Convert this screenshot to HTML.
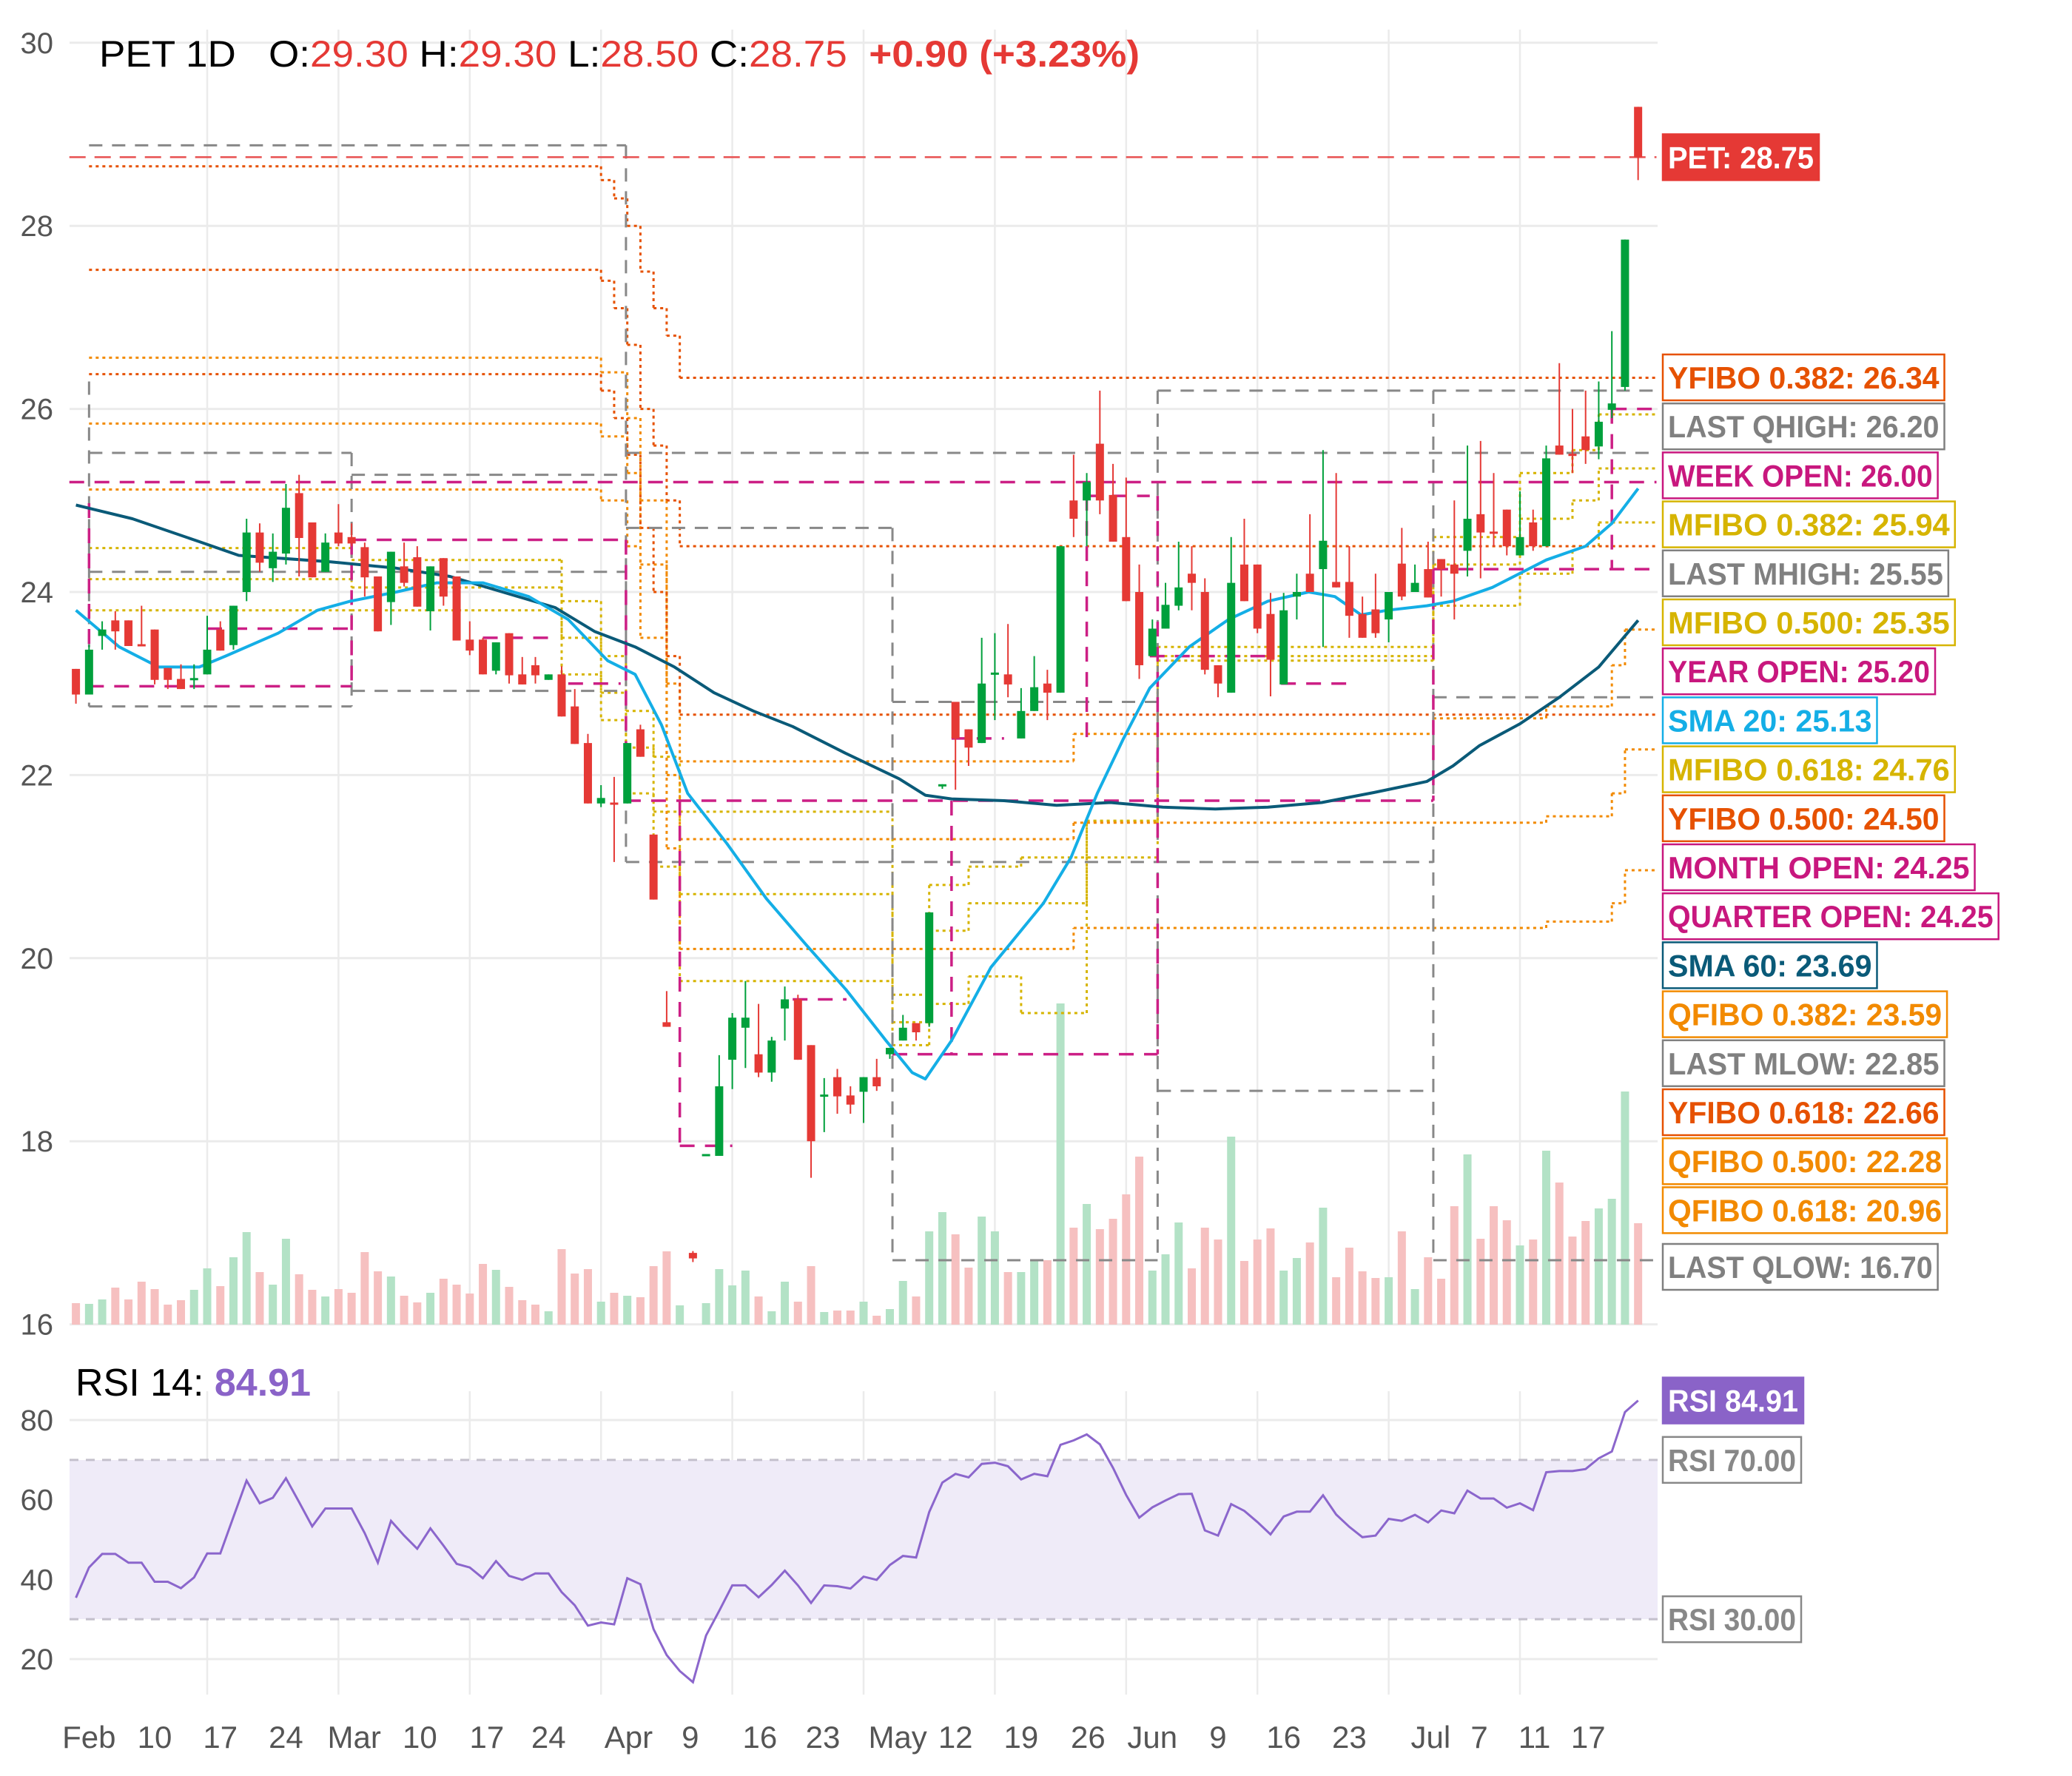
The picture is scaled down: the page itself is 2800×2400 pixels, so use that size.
<!DOCTYPE html>
<html><head><meta charset="utf-8"><title>PET 1D</title>
<style>
html,body{margin:0;padding:0;background:#fff;}
svg{display:block;font-family:"Liberation Sans",sans-serif;}
</style></head>
<body>
<svg id="chart" xmlns="http://www.w3.org/2000/svg" width="2800" height="2400" viewBox="0 0 2800 2400">
<rect x="0" y="0" width="2800" height="2400" fill="#ffffff"/>
<g id="grid"></g>
<rect x="94" y="1973" width="2146" height="215" fill="#efebf8"/>
<g id="volume"></g>
<g id="levels"></g>
<g id="smas"></g>
<g id="candles"></g>
<g id="rsi"></g>
<g id="axes"></g>
<g id="labels"></g>
<text x="134" y="90" font-size="50" textLength="1406" lengthAdjust="spacingAndGlyphs"><tspan fill="#000">PET 1D&#160;&#160;&#160;O:</tspan><tspan fill="#e53935">29.30</tspan><tspan fill="#000"> H:</tspan><tspan fill="#e53935">29.30</tspan><tspan fill="#000"> L:</tspan><tspan fill="#e53935">28.50</tspan><tspan fill="#000"> C:</tspan><tspan fill="#e53935">28.75</tspan><tspan fill="#e53935" font-weight="bold">&#160;&#160;+0.90 (+3.23%)</tspan></text>
<text x="102" y="1886" font-size="52"><tspan fill="#000">RSI 14: </tspan><tspan fill="#8a63c8" font-weight="bold">84.91</tspan></text>
</svg>
<script>
const opens=[23.16,22.88,23.52,23.69,23.69,23.43,23.59,23.17,23.05,23.04,23.10,23.59,23.42,24.00,24.65,24.26,24.42,25.08,24.76,24.22,24.65,24.60,24.49,24.17,23.89,24.28,24.38,23.79,24.37,24.17,23.48,23.48,23.14,23.55,23.10,23.20,23.04,23.10,22.75,22.35,21.69,21.70,21.69,22.50,21.35,19.30,null,16.78,17.84,17.84,18.89,19.24,18.95,18.75,19.45,19.55,19.05,18.49,18.70,18.50,18.54,18.70,18.95,19.10,19.29,19.29,21.88,22.80,22.50,22.35,23.10,23.10,22.40,22.70,23.00,22.90,25.00,25.00,25.62,25.06,24.60,24.00,23.30,23.60,23.85,24.20,24.00,23.20,22.90,24.30,24.30,23.76,22.99,23.95,24.20,24.25,24.11,24.11,23.76,23.81,23.70,24.31,24.00,24.25,24.36,24.30,24.45,24.85,24.66,24.90,24.40,24.76,24.50,25.60,25.51,25.70,25.59,25.99,26.24,29.30];
const highs=[23.16,23.42,23.68,23.79,23.69,23.85,23.59,23.17,23.21,23.21,23.74,23.68,23.85,24.80,24.75,24.64,25.18,25.28,24.76,24.64,24.96,24.75,24.54,24.17,24.44,24.54,24.50,24.28,24.37,24.17,23.68,23.50,23.45,23.55,23.29,23.29,23.10,23.19,22.94,22.45,21.89,21.98,22.35,22.55,21.35,19.64,null,16.80,17.86,18.94,19.40,19.75,19.50,19.14,19.69,19.60,19.05,18.69,18.79,18.60,18.70,18.90,19.02,19.38,19.29,20.50,21.90,22.80,22.50,23.50,23.55,23.65,22.95,23.30,23.15,24.50,25.50,25.30,26.20,25.40,25.25,24.30,23.70,24.10,24.55,24.50,24.15,23.20,24.60,24.80,24.30,23.99,23.99,24.20,24.85,25.55,25.30,24.50,23.95,24.20,24.00,24.70,24.30,24.55,24.36,25.00,25.60,25.65,25.30,24.90,25.10,24.90,25.60,26.50,26.00,26.20,26.30,26.85,27.85,29.30];
const lows=[22.78,22.88,23.37,23.37,23.41,23.42,22.99,22.94,22.94,22.94,23.10,23.36,23.37,23.90,24.22,24.11,24.30,24.17,24.16,24.22,24.50,24.50,23.95,23.57,23.64,24.06,23.84,23.58,23.85,23.47,23.31,23.10,23.10,23.00,22.99,23.00,23.04,22.64,22.34,21.69,21.65,21.05,21.69,22.20,20.64,19.25,null,16.68,17.84,17.84,18.57,18.80,18.70,18.65,19.10,18.89,17.60,18.10,18.30,18.30,18.20,18.55,18.90,19.10,19.10,19.25,21.85,21.84,22.10,22.35,22.60,22.85,22.40,22.70,22.60,22.90,24.60,24.50,24.85,24.55,23.90,23.05,23.30,23.60,23.80,23.80,23.10,22.85,22.90,23.90,23.55,22.86,22.99,23.70,24.00,23.40,24.05,23.50,23.50,23.50,23.45,23.91,24.00,23.94,23.95,23.70,24.17,24.15,24.50,24.40,24.40,24.45,24.50,25.50,25.30,25.40,25.45,25.90,26.20,28.50];
const closes=[22.88,23.37,23.59,23.57,23.41,23.42,23.04,23.04,22.94,23.06,23.37,23.36,23.85,24.65,24.32,24.44,24.92,24.59,24.16,24.54,24.53,24.53,24.16,23.57,24.44,24.10,23.84,24.28,23.95,23.47,23.36,23.10,23.45,23.09,22.99,23.09,23.10,22.64,22.34,21.69,21.75,21.69,22.35,22.20,20.64,19.25,null,16.72,17.86,18.60,19.35,19.35,18.75,19.10,19.55,18.89,18.00,18.51,18.49,18.40,18.70,18.60,19.02,19.24,19.19,20.50,21.90,22.40,22.30,23.00,23.12,22.99,22.70,22.96,22.90,24.50,24.80,25.20,25.00,24.55,23.90,23.20,23.60,23.86,24.05,24.10,23.15,23.00,24.10,23.90,23.60,23.26,23.80,24.00,24.00,24.56,24.05,23.74,23.50,23.55,24.00,23.95,24.10,23.94,24.25,24.20,24.80,24.65,24.64,24.50,24.60,24.50,25.46,25.50,25.49,25.55,25.86,26.06,27.85,28.75];
const volumes=[29,28,34,50,34,58,48,27,33,47,76,52,91,125,71,54,116,68,47,38,48,43,98,72,65,39,30,43,62,54,42,82,74,51,33,27,18,102,69,75,31,43,39,37,79,99,26,0,29,75,53,73,38,18,58,31,79,17,19,19,31,12,21,59,38,126,152,122,77,146,126,71,71,87,87,434,131,163,129,143,176,227,73,95,138,76,131,115,254,86,115,130,73,90,111,158,64,104,72,63,64,126,48,91,62,160,230,116,160,141,107,115,235,192,119,140,157,170,315,137];
const rsiValues=[35.4,43.0,46.4,46.4,44.2,44.2,39.4,39.4,37.8,40.5,46.5,46.5,55.7,64.8,59.1,60.5,65.4,59.4,53.3,57.8,57.8,57.8,51.6,44.2,54.7,51.0,47.7,52.8,48.5,43.9,43.0,40.3,44.6,40.9,39.9,41.5,41.5,36.8,33.5,28.4,29.2,28.7,40.3,38.8,27.5,21.0,17.0,14.2,25.9,32.1,38.5,38.5,35.5,38.6,42.2,38.5,34.1,38.5,38.3,37.7,40.7,39.9,43.6,45.9,45.5,56.9,64.3,66.5,65.6,69.0,69.3,68.4,65.1,66.5,65.9,73.8,74.9,76.4,73.9,68.0,61.2,55.5,58.1,59.8,61.4,61.5,52.3,51.0,58.9,57.2,54.4,51.3,55.8,57.0,57.0,61.1,56.3,53.2,50.6,51.0,55.2,54.7,56.2,54.3,57.3,56.6,62.3,60.3,60.3,58.0,59.1,57.4,66.9,67.2,67.2,67.7,70.4,72.1,82.0,84.91];
const sma20Idx=[0,3.3,6.3,9.4,11.4,15.4,18.4,20.9,24.4,27.5,31,34.5,37.5,40.5,42.6,44.6,46.6,49.6,52.6,55.6,58.7,61.7,63.7,64.7,66.7,69.7,73.7,75.8,77.8,79.8,81.8,84.8,87.8,90.8,93.9,95.9,97.9,99.9,102.9,104.9,107.9,112,115,117,119];
const sma20Val=[23.8,23.4,23.18,23.18,23.3,23.55,23.8,23.9,24.0,24.1,24.1,23.95,23.7,23.25,23.1,22.55,21.8,21.25,20.65,20.15,19.65,19.1,18.75,18.68,19.1,19.9,20.6,21.1,21.8,22.4,22.95,23.4,23.7,23.9,24.0,23.95,23.75,23.8,23.85,23.9,24.05,24.35,24.5,24.75,25.13];
const sma60Idx=[0,4.3,9.4,12.4,15.4,19.4,24.4,28.5,32.5,36.5,39.5,42.6,45.6,48.6,51.6,54.6,58.6,62.7,64.7,66.7,70.7,74.7,78.8,82.8,86.8,90.8,94.9,98.9,102.9,104.9,106.9,110,113,116,119];
const sma60Val=[24.95,24.8,24.55,24.4,24.37,24.33,24.26,24.17,24.0,23.83,23.57,23.4,23.18,22.9,22.7,22.53,22.24,21.96,21.78,21.74,21.72,21.67,21.7,21.65,21.63,21.65,21.7,21.81,21.93,22.1,22.32,22.56,22.85,23.18,23.69];
const grayLevels=[[1,41.9,28.88],[1,21,25.52],[1,41.9,24.22],[1,21,22.75],[21,41.9,22.92],[21,41.9,25.28],[41.9,62.2,24.7],[41.9,103.4,21.05],[41.9,120.4,25.52],[62.2,82.4,22.8],[62.2,82.4,16.7],[82.4,103.4,18.55],[82.4,120.4,26.2],[103.4,120.4,22.85],[103.4,120.4,16.7]];
const grayVerticals=[[1,26.3,22.75],[21,25.52,22.75],[41.9,28.88,21.05],[62.2,24.7,16.7],[82.4,26.2,16.7],[103.4,26.2,16.7]];
const magentaLevels=[[-0.5,120.4,25.2],[1,21,22.97],[21,41.9,24.57],[41.9,103.4,21.72],[62.2,82.4,18.95],[10,21,23.6],[31,36,23.5],[37.5,41.5,23.0],[46,50,17.95],[54.6,58.7,19.55],[66.7,70.7,22.4],[77,81.8,25.05],[81.8,90.6,23.3],[91.8,96.8,23.0],[103.4,120.4,24.25],[117,120.4,26.0]];
const magentaVerticals=[[1,24.97,22.97],[21,24.57,22.97],[41.9,24.57,21.72],[46,21.72,17.95],[66.7,21.72,18.95],[77,25.05,22.4],[82.4,25.05,18.95],[103.4,24.25,21.72],[117,26.0,24.25]];
const yfibo382=[[1,40,28.65],[40,41,28.5],[41,42,28.3],[42,43,28.0],[43,44,27.5],[44,45,27.1],[45,46,26.8],[46,120.4,26.34]];
const yfibo500=[[1,40,27.52],[40,41,27.4],[41,42,27.1],[42,43,26.7],[43,44,26.0],[44,45,25.6],[45,46,25.0],[46,120.4,24.5]];
const yfibo618=[[1,40,26.38],[40,41,26.2],[41,42,25.9],[42,43,25.5],[43,44,24.7],[44,45,24.0],[45,46,23.3],[46,120.4,22.66]];
const qfibo382=[[1,40,26.56],[40,42,26.4],[42,43,25.9],[43,45,25.0],[45,46,23.0],[46,76,22.15],[76,103.4,22.45],[103.4,112,22.62],[112,117,22.75],[117,118,23.2],[118,120.4,23.59]];
const qfibo500=[[1,40,25.84],[40,42,25.7],[42,43,25.3],[43,45,24.3],[45,46,22.0],[46,76,21.3],[76,103.4,21.48],[103.4,112,21.48],[112,117,21.55],[117,118,21.8],[118,120.4,22.28]];
const qfibo618=[[1,40,25.12],[40,42,25.0],[42,43,24.5],[43,45,23.5],[45,46,21.2],[46,76,20.1],[76,103.4,20.33],[103.4,112,20.33],[112,117,20.4],[117,118,20.6],[118,120.4,20.96]];
const mfibo382=[[1,21,24.48],[21,37,24.35],[37,40,23.9],[40,41.9,23.3],[41.9,44,22.7],[44,46,22.2],[46,62.2,21.6],[62.2,65,19.6],[65,68,20.8],[68,72,21.0],[72,82.4,21.1],[82.4,103.4,23.4],[103.4,110,24.6],[110,114,25.3],[114,116,25.55],[116,120.4,25.94]];
const mfibo500=[[1,21,24.14],[21,37,24.05],[37,40,23.5],[40,41.9,22.9],[41.9,44,22.3],[44,46,21.6],[46,62.2,20.7],[62.2,65,19.3],[65,68,20.3],[68,77,20.6],[77,82.4,21.5],[82.4,103.4,23.3],[103.4,110,24.3],[110,114,24.8],[114,116,25.0],[116,120.4,25.35]];
const mfibo618=[[1,21,23.8],[21,37,23.8],[37,40,23.1],[40,41.9,22.6],[41.9,44,21.8],[44,46,21.0],[46,62.2,19.75],[62.2,65,19.05],[65,68,19.5],[68,72,19.8],[72,77,19.4],[77,82.4,21.5],[82.4,103.4,23.25],[103.4,110,23.85],[110,114,24.2],[114,116,24.5],[116,120.4,24.76]];
const lastPrice=28.75;
const priceTicks=[16,18,20,22,24,26,28,30];
const rsiTicks=[20,40,60,80];
const dateLabels=["Feb","10","17","24","Mar","10","17","24","Apr","9","16","23","May","12","19","26","Jun","9","16","23","Jul","7","11","17"];
const dateIdx=[1,6,11,16,21.2,26.2,31.3,36,42.1,46.8,52.1,56.9,62.6,67,72,77.1,82,87,92,97,103.2,106.9,111.1,115.2];
const gridIdx=[10,20,30,40,50,60,70,80,90,100,110];
const labelTexts=["YFIBO 0.382: 26.34","LAST QHIGH: 26.20","WEEK OPEN: 26.00","MFIBO 0.382: 25.94","LAST MHIGH: 25.55","MFIBO 0.500: 25.35","YEAR OPEN: 25.20","SMA 20: 25.13","MFIBO 0.618: 24.76","YFIBO 0.500: 24.50","MONTH OPEN: 24.25","QUARTER OPEN: 24.25","SMA 60: 23.69","QFIBO 0.382: 23.59","LAST MLOW: 22.85","YFIBO 0.618: 22.66","QFIBO 0.500: 22.28","QFIBO 0.618: 20.96","LAST QLOW: 16.70"];
const labelKinds=["y","g","m","f","g","f","m","s20","f","y","m","m","s60","q","g","y","q","q","g"];

const NS="http://www.w3.org/2000/svg";
const X0=102.6, STEP=17.74;
function xs(i){return X0+i*STEP;}
function yp(p){return 800-(p-24)*123.7;}
function yr(r){return 1919+(80-r)*5.383;}
function mk(tag,attrs,parent){const e=document.createElementNS(NS,tag);for(const k in attrs)e.setAttribute(k,attrs[k]);parent.appendChild(e);return e;}
const COL={y:"#e65100",g:"#808080",m:"#c8177e",f:"#d6b400",s20:"#14aee6",s60:"#0a5a78",q:"#f28a00"};
const GREEN="#00a03c", RED="#e53935";

const grid=document.getElementById('grid');
priceTicks.forEach(t=>{const l=mk('line',{x1:94,x2:2240,y1:yp(t),y2:yp(t),stroke:'#ebebeb','stroke-width':3},grid);

});
rsiTicks.forEach(t=>{const l=mk('line',{x1:94,x2:2240,y1:yr(t),y2:yr(t),stroke:'#ebebeb','stroke-width':3},grid);

});
gridIdx.forEach(g=>{const x=xs(g);
const a=mk('line',{x1:x,x2:x,y1:40,y2:1790,stroke:'#ebebeb','stroke-width':2.5},grid);


const b=mk('line',{x1:x,x2:x,y1:1880,y2:2290,stroke:'#ebebeb','stroke-width':2.5},grid);

});

const vg=document.getElementById('volume');
volumes.forEach((v,i)=>{if(!v)return;const up=closes[i]===null||closes[i]>=opens[i];
const r=mk('rect',{x:xs(i)-5.5,y:1790-v,width:11,height:v,fill:up?'#b3e2c6':'#f6c0c0'},vg);

});

const lg=document.getElementById('levels');
function hseg(a,b,p,color,dash,w,name){const l=mk('line',{x1:xs(a),x2:xs(b),y1:yp(p),y2:yp(p),stroke:color,'stroke-width':w,'stroke-dasharray':dash},lg);

}
function vseg(i,p0,p1,color,dash,w,name){const l=mk('line',{x1:xs(i),x2:xs(i),y1:yp(p0),y2:yp(p1),stroke:color,'stroke-width':w,'stroke-dasharray':dash},lg);

}
function steps(arr,color,name){arr.forEach((s,k)=>{hseg(s[0],s[1],s[2],color,'4,5',3,name);
if(k>0)vseg(s[0],arr[k-1][2],s[2],color,'4,5',3,name+'-step');});}
steps(mfibo382,COL.f,'mfibo-382-line');steps(mfibo500,COL.f,'mfibo-500-line');steps(mfibo618,COL.f,'mfibo-618-line');
steps(qfibo382,COL.q,'qfibo-382-line');steps(qfibo500,COL.q,'qfibo-500-line');steps(qfibo618,COL.q,'qfibo-618-line');
steps(yfibo382,COL.y,'yfibo-382-line');steps(yfibo500,COL.y,'yfibo-500-line');steps(yfibo618,COL.y,'yfibo-618-line');
grayLevels.forEach(s=>hseg(s[0],s[1],s[2],'#888888','18,13',3,'high-low-level'));
grayVerticals.forEach(s=>vseg(s[0],s[1],s[2],'#888888','18,13',3,'high-low-boundary'));
magentaLevels.forEach(s=>hseg(s[0],s[1],s[2],'#cc1f85','20,14',3.5,'open-level'));
magentaVerticals.forEach(s=>vseg(s[0],s[1],s[2],'#cc1f85','20,14',3.5,'open-boundary'));
hseg(-0.5,120.4,lastPrice,'#e85050','22,12',2.5,'last-price-line');

const sg=document.getElementById('smas');
function poly(ix,vals,color,w,name){const pts=ix.map((v,k)=>xs(v).toFixed(1)+','+yp(vals[k]).toFixed(1)).join(' ');
const p=mk('polyline',{points:pts,fill:'none',stroke:color,'stroke-width':w,'stroke-linejoin':'round'},sg);

}
poly(sma60Idx,sma60Val,COL.s60,4,'sma-60-line');
poly(sma20Idx,sma20Val,COL.s20,4,'sma-20-line');

const cg=document.getElementById('candles');
opens.forEach((o,i)=>{if(o===null)return;const c=closes[i],h=highs[i],l=lows[i];const up=c>=o;const col=up?GREEN:RED;const x=xs(i);
const w=mk('line',{x1:x,x2:x,y1:yp(h),y2:yp(l),stroke:col,'stroke-width':2},cg);


const top=yp(Math.max(o,c)),bh=Math.max(3,Math.abs(yp(o)-yp(c)));
const b=mk('rect',{x:x-5.5,y:top,width:11,height:bh,fill:col},cg);

});

const rg=document.getElementById('rsi');
[70,30].forEach(v=>{const l=mk('line',{x1:94,x2:2240,y1:yr(v),y2:yr(v),stroke:'#c4c0cc','stroke-width':3,'stroke-dasharray':'12,10'},rg);

});
const rp=mk('polyline',{points:rsiValues.map((v,i)=>xs(i).toFixed(1)+','+yr(v).toFixed(1)).join(' '),fill:'none',stroke:'#8b66cc','stroke-width':3},rg);



const ag=document.getElementById('axes');
priceTicks.forEach(t=>{const e=mk('text',{x:72,y:yp(t)+14,'font-size':40,fill:'#555','text-anchor':'end'},ag);e.textContent=String(t);

});
rsiTicks.forEach(t=>{const e=mk('text',{x:72,y:yr(t)+14,'font-size':40,fill:'#555','text-anchor':'end'},ag);e.textContent=String(t);

});
dateLabels.forEach((d,k)=>{const e=mk('text',{x:xs(dateIdx[k]),y:2362,'font-size':42,fill:'#555','text-anchor':'middle'},ag);e.textContent=d;

});

const lb=document.getElementById('labels');
const LX=2247;
const labelRight=[1472,1472,1467,1480,1475,1480,1465,1421,1480,1472,1495,1513,1421,1474,1472,1472,1474,1474,1467];
function box(y,w,text,stroke,fill,tcol,name){const g=mk('g',{},lb);


mk('rect',{x:LX,y:y-31,width:w,height:62,fill:fill,stroke:stroke,'stroke-width':2.5},g);
const t=mk('text',{x:LX+7,y:y+15,'font-size':42,'font-weight':'bold',fill:tcol,textLength:w-14,lengthAdjust:'spacingAndGlyphs'},g);t.textContent=text;}
box(yp(lastPrice),211,'PET: 28.75',RED,RED,'#fff','last-price-label');
labelTexts.forEach((t,k)=>{const y=(k<18)?510+k*66.2:1712;const c=COL[labelKinds[k]];
box(y,labelRight[k]*1.785-LX,t,c,'#fff',c,'level-label');});
box(yr(84.91),190,'RSI 84.91','#8a63c8','#8a63c8','#fff','rsi-value-label');
box(yr(70),187,'RSI 70.00','#888','#fff','#888','rsi-70-label');
box(yr(30),187,'RSI 30.00','#888','#fff','#888','rsi-30-label');
</script>
</body></html>
